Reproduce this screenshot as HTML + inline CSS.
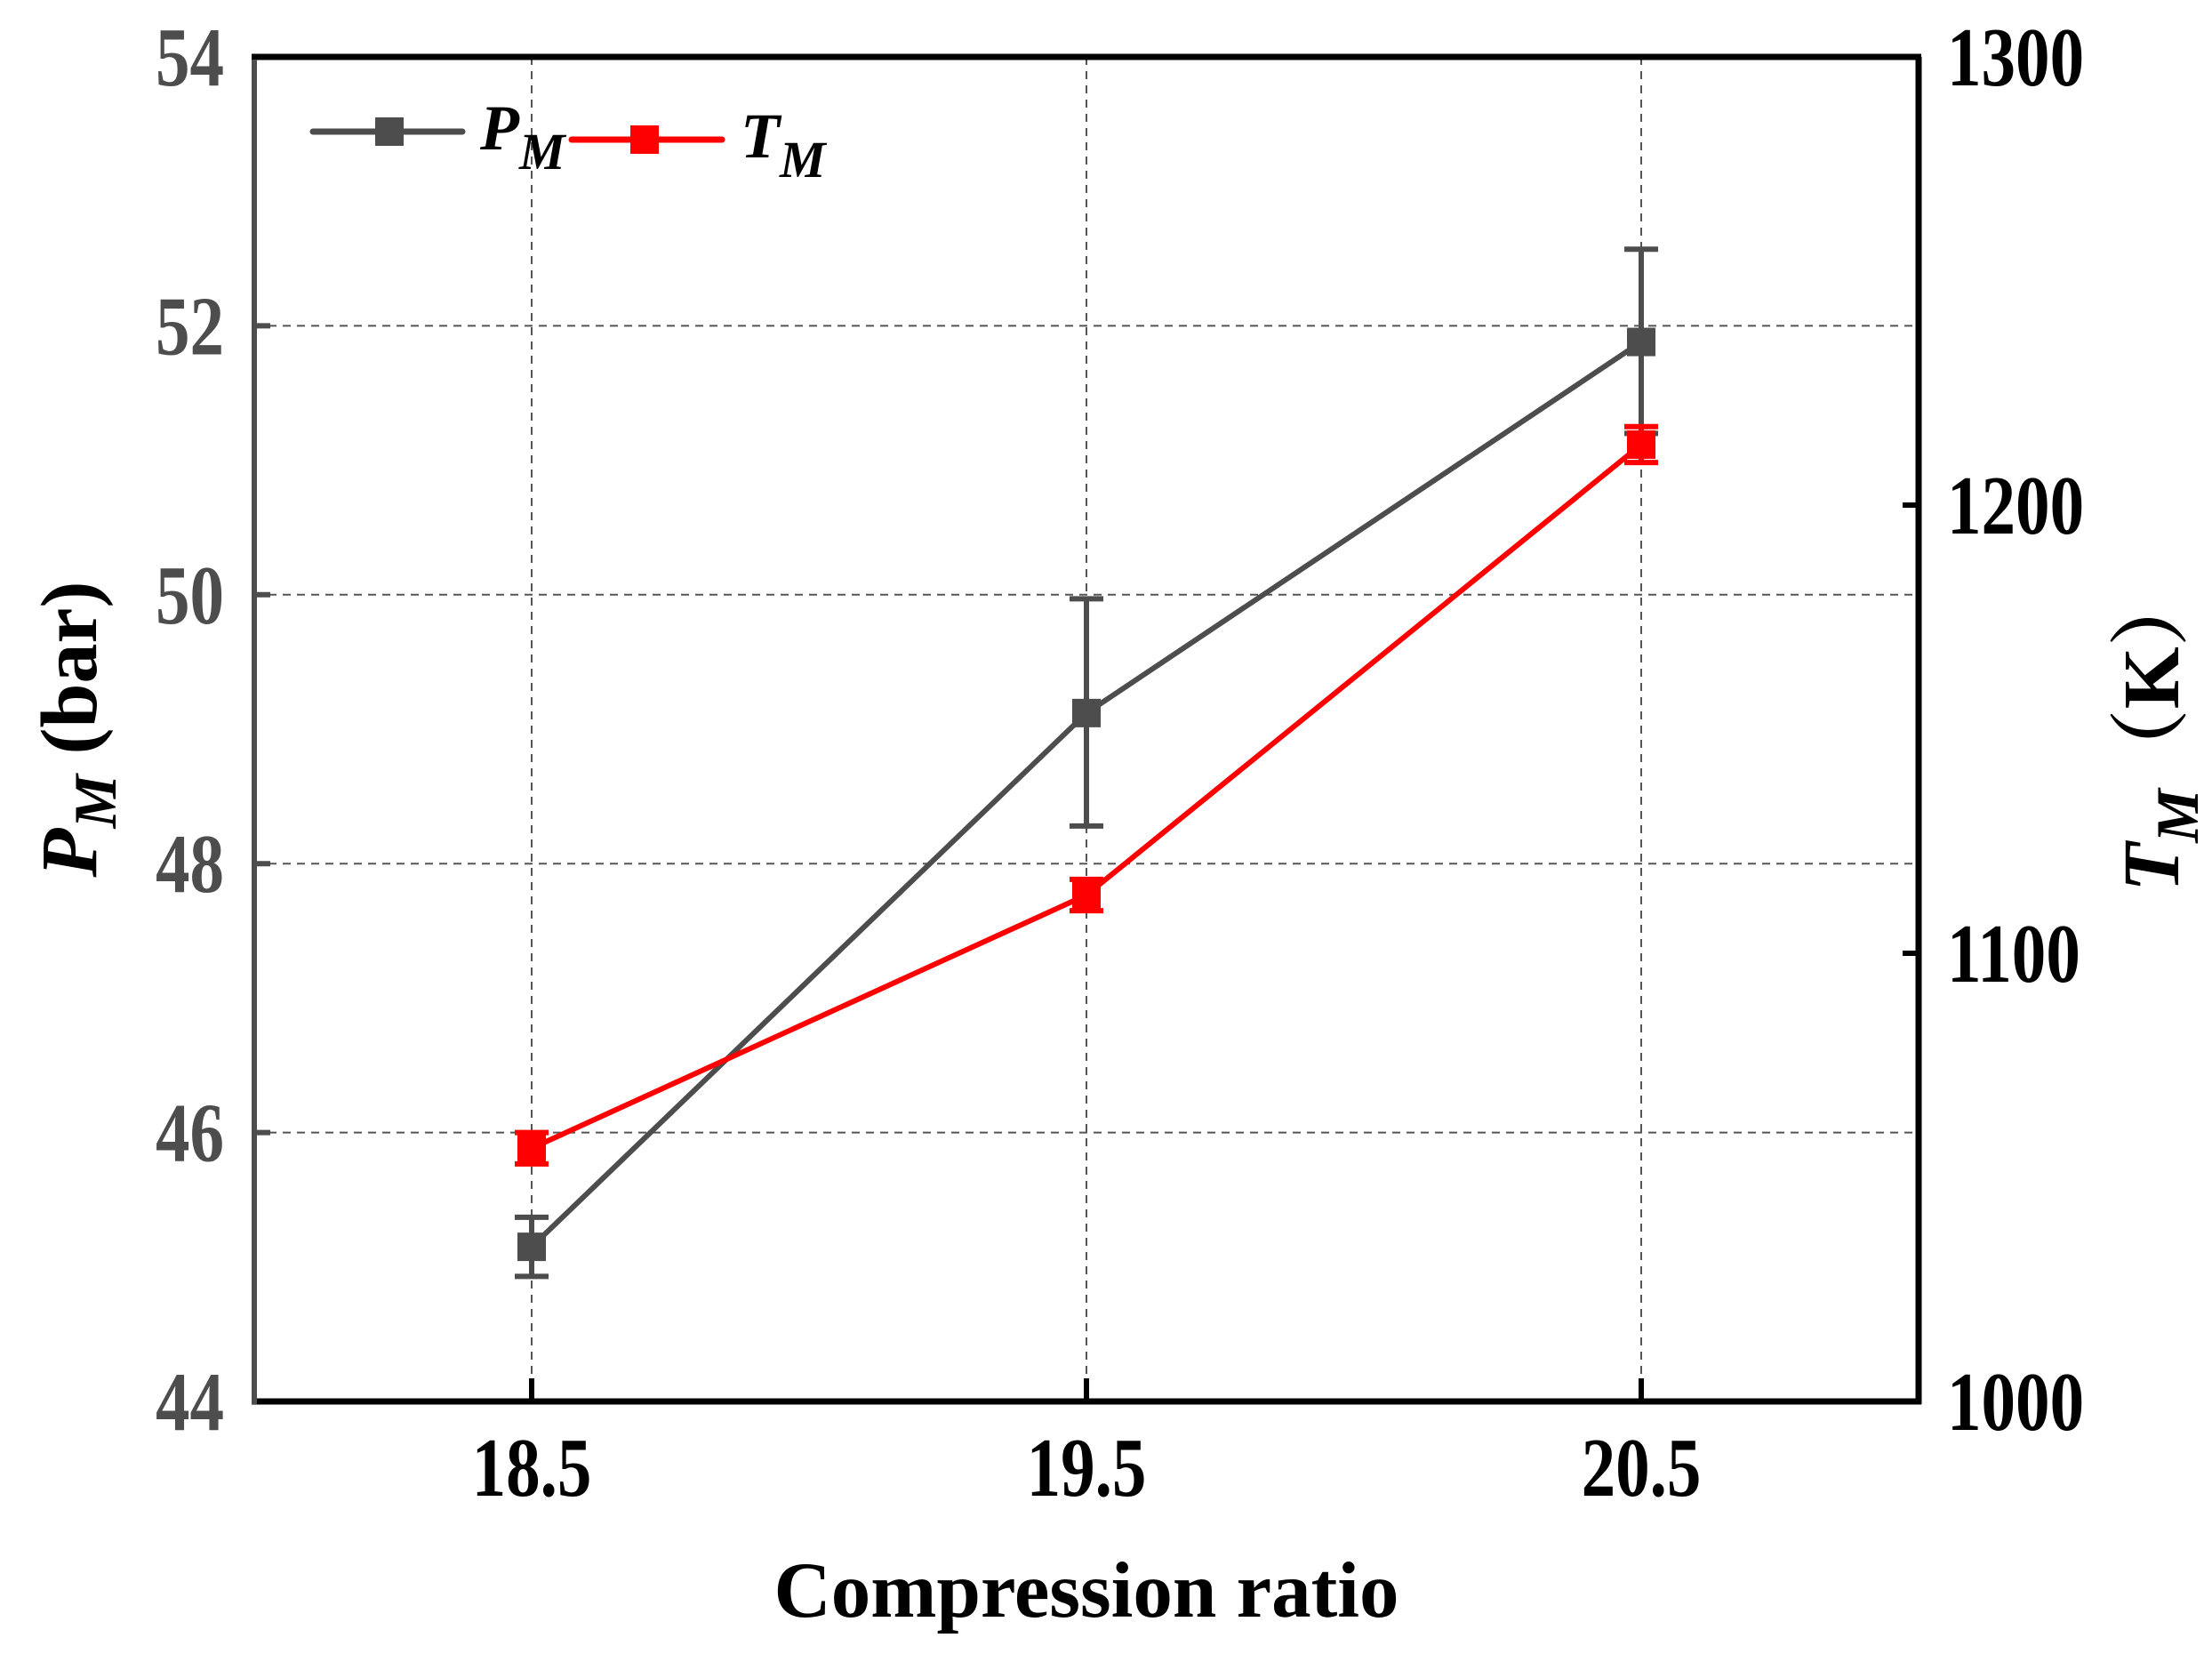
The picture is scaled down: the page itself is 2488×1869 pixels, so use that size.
<!DOCTYPE html>
<html><head><meta charset="utf-8"><style>
html,body{margin:0;padding:0;background:#fff;}
svg text{font-family:"Liberation Serif",serif;font-weight:bold;}
</style></head><body>
<svg id="chart" width="2488" height="1864" viewBox="0 0 2488 1864" xmlns="http://www.w3.org/2000/svg">
<g id="grid"></g>
<g id="axes"></g>
<g id="series"></g>
<g id="legend">
  <line x1="352" y1="148" x2="520" y2="148" stroke="#4d4d4d" stroke-width="7" stroke-linecap="round"/>
  <rect x="422" y="132" width="32" height="32" fill="#4d4d4d"/>
  <text x="540" y="168" font-size="72" font-style="italic" fill="#000">P<tspan font-size="58" dy="22">M</tspan></text>
  <line x1="643" y1="157" x2="812" y2="157" stroke="#ff0000" stroke-width="7" stroke-linecap="round"/>
  <rect x="709" y="141" width="32" height="32" fill="#ff0000"/>
  <text x="833" y="177" font-size="72" font-style="italic" fill="#000">T<tspan font-size="58" dy="22">M</tspan></text>
</g>
<text x="1222" y="1818" font-size="89" text-anchor="middle" fill="#000">Compression ratio</text>
<text transform="translate(108,820) rotate(-90)" font-size="90" text-anchor="middle" fill="#000"><tspan font-style="italic">P</tspan><tspan font-style="italic" font-size="68" dy="22">M</tspan><tspan dy="-22"> (bar)</tspan></text>
<text transform="translate(2450,820) rotate(-90)" font-size="90" text-anchor="middle" fill="#000"><tspan font-style="italic">T</tspan><tspan font-style="italic" font-size="68" dy="22">M</tspan><tspan dy="-22" font-family="Liberation Serif, Noto Serif CJK SC, serif">（K）</tspan></text>
</svg>
<script>
const categories=[18.5,19.5,20.5];
const pValues=[45.15,49.12,51.88];
const pErrLow=[44.93,48.28,51.2];
const pErrHigh=[45.37,49.97,52.57];
const tValues=[1056.5,1113,1213.5];
const tErr=[3.5,3.5,4];
const leftTicks=[44,46,48,50,52,54];
const rightTicks=[1000,1100,1200,1300];
const xTicks=["18.5","19.5","20.5"];

const PL=286,PR=2158,PT=64,PB=1576;
const NS="http://www.w3.org/2000/svg";
const X=v=>PL+(v-18)/3*(PR-PL);
const YL=v=>PB-(v-44)/10*(PB-PT);
const YR=v=>PB-(v-1000)/300*(PB-PT);
function mk(tag,attrs,parent){const e=document.createElementNS(NS,tag);for(const k in attrs)e.setAttribute(k,attrs[k]);parent.appendChild(e);return e;}
const gridG=document.getElementById('grid'),axesG=document.getElementById('axes'),seriesG=document.getElementById('series');
function label(x,y,txt,anchor,fill){
  return mk('text',{transform:`translate(${x},${y}) scale(0.82,1)`,'font-size':94,'text-anchor':anchor,fill:fill},axesG);
}
leftTicks.forEach(t=>{
  const y=YL(t);
  if(t>44&&t<54){const g=mk('line',{x1:PL,y1:y,x2:PR,y2:y,stroke:'#555','stroke-width':2,'stroke-dasharray':'9,7'},gridG);
  
  
  const tk=mk('line',{x1:PL,y1:y,x2:PL+18,y2:y,stroke:'#4d4d4d','stroke-width':6},axesG);
  
  }
  const tx=label(PL-34,y+32,t,'end','#4d4d4d');tx.textContent=t;
  
  
});
rightTicks.forEach(t=>{
  const y=YR(t);
  if(t>1000&&t<1300){const tk=mk('line',{x1:PR-18,y1:y,x2:PR,y2:y,stroke:'#000','stroke-width':6},axesG);
  
  }
  const tx=label(PR+32,y+32,t,'start','#000');tx.textContent=t;
  
  
});
categories.forEach((c,i)=>{
  const x=X(c);
  const g=mk('line',{x1:x,y1:PT,x2:x,y2:PB,stroke:'#555','stroke-width':2,'stroke-dasharray':'9,7'},gridG);
  
  
  const tk=mk('line',{x1:x,y1:PB-26,x2:x,y2:PB,stroke:'#000','stroke-width':6},axesG);
  
  
  const tx=label(x,PB+106,xTicks[i],'middle','#000');tx.textContent=xTicks[i];
  
  
});
const topAxis=mk('line',{x1:PL-3,y1:PT,x2:PR+3,y2:PT,stroke:'#000','stroke-width':7},axesG);


const botAxis=mk('line',{x1:PL-3,y1:PB,x2:PR+3,y2:PB,stroke:'#000','stroke-width':7},axesG);


const leftAxis=mk('line',{x1:PL,y1:PT+3,x2:PL,y2:PB+3,stroke:'#4d4d4d','stroke-width':6},axesG);


const rightAxis=mk('line',{x1:PR,y1:PT,x2:PR,y2:PB+3,stroke:'#000','stroke-width':7},axesG);



function draw(vals,lo,hi,yf,color,name){
  const pts=categories.map((c,i)=>X(c)+','+yf(vals[i])).join(' ');
  const pl=mk('polyline',{points:pts,fill:'none',stroke:color,'stroke-width':6},seriesG);
  
  
  categories.forEach((c,i)=>{
    const x=X(c),y1=yf(lo[i]),y2=yf(hi[i]);
    const eb=mk('path',{d:`M${x},${y1}V${y2}M${x-19},${y1}H${x+19}M${x-19},${y2}H${x+19}`,stroke:color,'stroke-width':6,fill:'none'},seriesG);
    
    
    const m=mk('rect',{x:x-16,y:yf(vals[i])-16,width:32,height:32,fill:color},seriesG);
    
    
  });
}
draw(pValues,pErrLow,pErrHigh,YL,'#4d4d4d','pm');
draw(tValues,tValues.map((v,i)=>v-tErr[i]),tValues.map((v,i)=>v+tErr[i]),YR,'#ff0000','tm');
</script>
</body></html>
